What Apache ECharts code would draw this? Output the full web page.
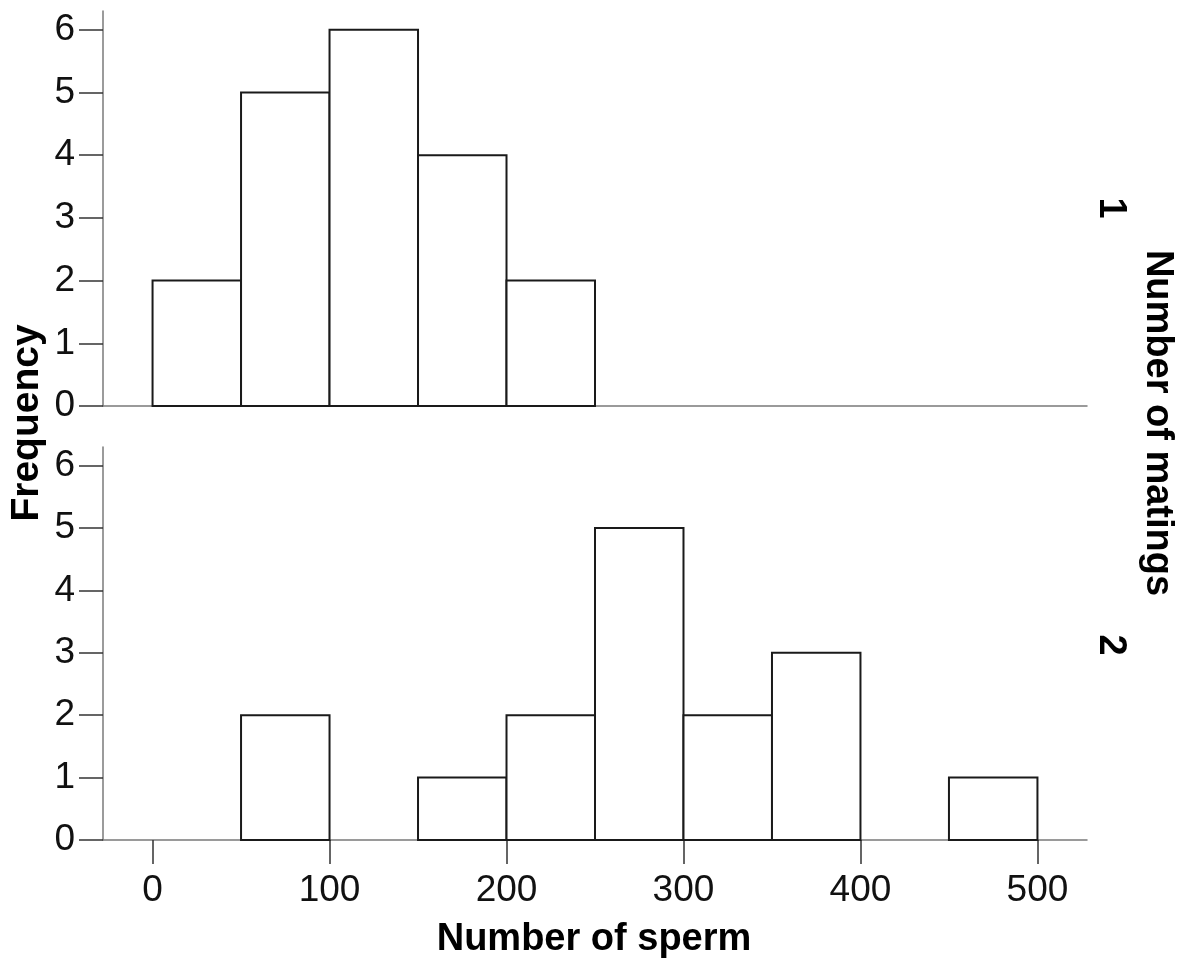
<!DOCTYPE html>
<html lang="en">
<head>
    <meta charset="UTF-8">
    <title>Number of sperm</title>
    <script src="https://cdn.jsdelivr.net/npm/echarts@6/dist/echarts.min.js"></script>
    <style>
        html, body { margin: 0; padding: 0; background: #fff; }
    </style>
</head>
<body>
    <div id="main" style="width:1184px;height:967px;"></div>
</body>
<script>
    // bin edges (left edge of each 50-wide bin)
    var binStarts = [0, 50, 100, 150, 200, 250, 300, 350, 400, 450];
    var binWidth = 50;
    // frequencies, one mating vs two matings
    var freqOne = [2, 5, 6, 4, 2, 0, 0, 0, 0, 0];
    var freqTwo = [0, 2, 0, 1, 2, 5, 2, 3, 0, 1];
    var xTicks = [0, 100, 200, 300, 400, 500];
    var yTicks = [0, 1, 2, 3, 4, 5, 6];
    var panelNames = ['1', '2'];

    var myChart = echarts.init(document.getElementById('main'));
    var font = '"Liberation Sans", Arial, sans-serif';
    var axisGrey = '#7a7a7a';

    function binData(freq) {
        var out = [];
        for (var i = 0; i < binStarts.length; i++) {
            if (freq[i] > 0) out.push([binStarts[i], binStarts[i] + binWidth, freq[i]]);
        }
        return out;
    }

    function renderBin(params, api) {
        var p1 = api.coord([api.value(0), api.value(2)]);
        var p2 = api.coord([api.value(1), 0]);
        return {
            type: 'rect',
            shape: { x: p1[0], y: p1[1], width: p2[0] - p1[0], height: p2[1] - p1[1] },
            style: { fill: '#fff', stroke: '#1a1a1a', lineWidth: 2 }
        };
    }

    function xAxisFor(idx, showLabels) {
        return {
            type: 'value', gridIndex: idx, min: -28, max: 528,
            splitLine: { show: false },
            axisLine: { show: true, onZero: false, lineStyle: { color: axisGrey, width: 1.5 } },
            axisTick: { show: showLabels, length: 24, customValues: xTicks, lineStyle: { color: '#333', width: 1.5 } },
            axisLabel: { show: showLabels, customValues: xTicks, margin: 32, fontSize: 37, color: '#111', fontFamily: font }
        };
    }

    function yAxisFor(idx) {
        return {
            type: 'value', gridIndex: idx, min: 0, max: 6.3,
            splitLine: { show: false },
            axisLine: { show: true, onZero: false, lineStyle: { color: axisGrey, width: 1.5 } },
            axisTick: { show: true, length: 24, customValues: yTicks, lineStyle: { color: '#333', width: 1.5 } },
            axisLabel: { customValues: yTicks, margin: 28, fontSize: 37, color: '#111', fontFamily: font }
        };
    }

    function label(text, x, y, rot, size) {
        return {
            type: 'text', x: x, y: y, rotation: rot,
            style: { text: text, font: 'bold ' + size + 'px ' + font, fill: '#000', align: 'center', verticalAlign: 'middle' }
        };
    }

    var option = {
        backgroundColor: '#fff',
        animation: false,
        grid: [
            { left: 103, right: 97, top: 11, height: 395 },
            { left: 103, right: 97, top: 447, height: 393 }
        ],
        xAxis: [xAxisFor(0, false), xAxisFor(1, true)],
        yAxis: [yAxisFor(0), yAxisFor(1)],
        series: [
            { type: 'custom', xAxisIndex: 0, yAxisIndex: 0, renderItem: renderBin, data: binData(freqOne) },
            { type: 'custom', xAxisIndex: 1, yAxisIndex: 1, renderItem: renderBin, data: binData(freqTwo) }
        ],
        graphic: [
            label('Frequency', 27, 423, Math.PI / 2, 39),
            label('Number of sperm', 594, 940, 0, 38),
            label('Number of matings', 1157, 423, -Math.PI / 2, 38),
            label(panelNames[0], 1110, 208, -Math.PI / 2, 38),
            label(panelNames[1], 1110, 645, -Math.PI / 2, 38)
        ]
    };

    myChart.setOption(option);
</script>
</html>
